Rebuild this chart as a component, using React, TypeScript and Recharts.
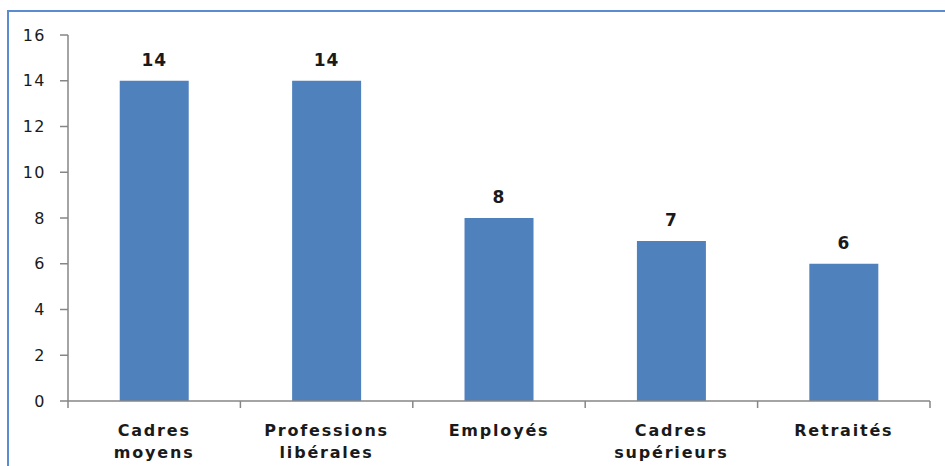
import { BarChart, Bar, XAxis, YAxis, LabelList } from 'recharts'

const categories = ['Cadres moyens', 'Professions libérales', 'Employés', 'Cadres supérieurs', 'Retraités']
const counts = [14, 14, 8, 7, 6]
const yTicks = [0, 2, 4, 6, 8, 10, 12, 14, 16]

const data = categories.map((name, i) => ({ name, value: counts[i] }))

const textColor = '#1a1a1a'
const axisColor = '#868686'
const font = '"DejaVu Sans", Verdana, sans-serif'

function CategoryTick(props: any) {
  const { x, y, payload, index } = props
  const half = payload.offset || 0
  const lines = String(payload.value).split(' ')
  const last = index === categories.length - 1
  return (
    <g>
      <line x1={x - half} x2={x - half} y1={y - 8} y2={y - 1} stroke={axisColor} strokeWidth={1.5} />
      {last && <line x1={x + half} x2={x + half} y1={y - 8} y2={y - 1} stroke={axisColor} strokeWidth={1.5} />}
      {lines.map((line, i) => (
        <text
          key={i}
          x={x}
          y={y + 27 + i * 22}
          textAnchor="middle"
          fill={textColor}
          fontFamily={font}
          fontWeight="bold"
          fontSize={16}
          letterSpacing={1.8}
        >
          {line}
        </text>
      ))}
    </g>
  )
}

export default function App() {
  return (
    <div style={{ position: 'absolute', left: 0, top: 0, width: 945, height: 466, background: '#fff', overflow: 'hidden' }}>
      <div
        style={{
          position: 'absolute',
          left: 7,
          top: 10,
          width: 1000,
          height: 500,
          borderTop: '2px solid #5b8bd0',
          borderLeft: '2px solid #5b8bd0',
        }}
      />
      <div style={{ position: 'absolute', left: 0, top: 0 }}>
        <BarChart
          width={945}
          height={466}
          data={data}
          margin={{ top: 35, right: 15, bottom: 0, left: 0 }}
          barCategoryGap="30%"
        >
          <XAxis
            dataKey="name"
            height={65}
            axisLine={{ stroke: axisColor, strokeWidth: 1.5 }}
            tickLine={false}
            tick={<CategoryTick />}
            interval={0}
          />
          <YAxis
            domain={[0, 16]}
            ticks={yTicks}
            width={68}
            axisLine={{ stroke: axisColor, strokeWidth: 1.5 }}
            tickLine={{ stroke: axisColor, strokeWidth: 1.5 }}
            tickSize={8}
            tickMargin={14}
            tick={{ fill: textColor, fontFamily: font, fontSize: 16, letterSpacing: 1.5 }}
          />
          <Bar dataKey="value" fill="#4f81bd" isAnimationActive={false}>
            <LabelList
              dataKey="value"
              position="top"
              offset={15}
              fill={textColor}
              fontFamily={font}
              fontWeight="bold"
              fontSize={17}
              letterSpacing={1}
            />
          </Bar>
        </BarChart>
      </div>
    </div>
  )
}
